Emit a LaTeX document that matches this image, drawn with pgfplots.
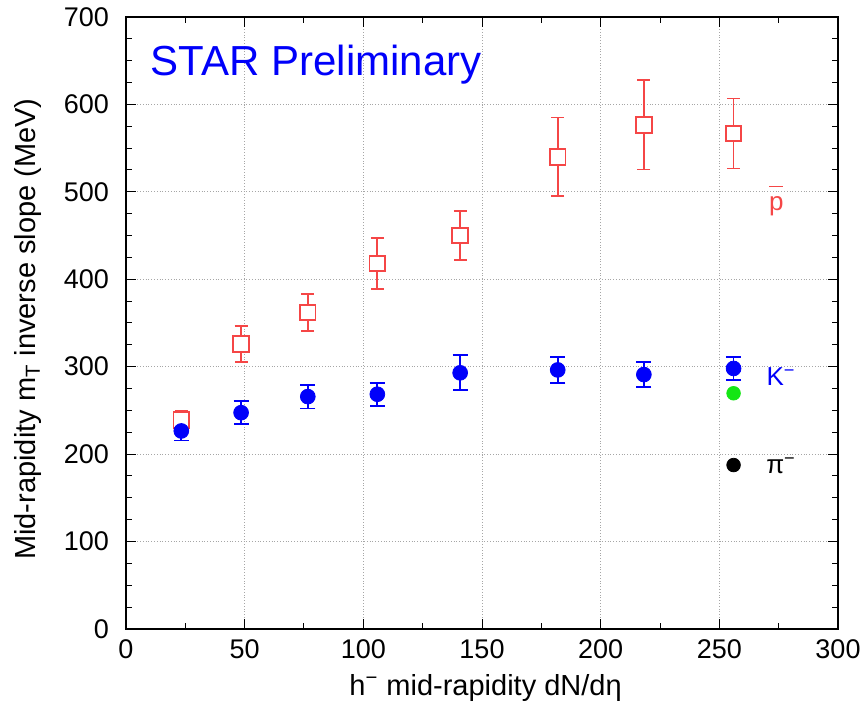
\documentclass[border=0pt]{standalone}
\usepackage{fontspec}
\setmainfont{Liberation Sans}
\usepackage{pgfplots}
\usepackage{pgfplotstable}
\pgfplotsset{compat=1.18}
\definecolor{pbarred}{RGB}{245,70,70}
\definecolor{kblue}{RGB}{0,0,250}
\definecolor{kgreen}{RGB}{20,230,20}

% anti-proton slopes
\pgfplotstableread{
x y e
23.3 239 10
48.5 325.8 20.5
76.6 362 21
105.9 418 29
140.8 450 28
181.9 540 45
218.2 576.6 51
256 566.7 40
}\pbar
% K- slopes
\pgfplotstableread{
x y e
23.3 226.5 11
48.5 247.4 13
76.6 265.8 13.5
105.9 268.5 13
140.8 293 20
181.9 296.3 15
218.2 291 14.5
256 298 13.5
}\kminus

\begin{document}
\begin{tikzpicture}
\begin{axis}[
  width=356pt, height=306pt, scale only axis,
  xmin=0, xmax=300, ymin=0, ymax=700,
  xtick={0,50,...,300}, ytick={0,100,...,700},
  minor x tick num=1, minor y tick num=3,
  tick align=inside, major tick length=5pt, minor tick length=3pt,
  xmajorgrids, ymajorgrids, grid style={gray!70, densely dotted, line width=0.5pt},
  axis line style={line width=1pt},
  every tick/.style={black, line width=0.5pt},
  tick label style={font=\fontsize{13.5}{14}\selectfont},
  yticklabel style={xshift=-5pt},
  xticklabel style={yshift=-2pt},
  /pgf/number format/assume math mode=true,
  label style={font=\fontsize{14.5}{16}\selectfont},
  xlabel={h\textsuperscript{−} mid-rapidity dN/dη},
  ylabel={Mid-rapidity m\textsubscript{T} inverse slope (MeV)},
  xlabel style={at={(axis description cs:0.505,-0.108)}, anchor=base},
  ylabel style={at={(axis description cs:-0.1376,0.49)}, anchor=center},
  clip=false,
]
\addplot[only marks, mark=square, mark size=3.9pt, color=pbarred, mark options={line width=0.9pt},
  error bars/.cd, y dir=both, y explicit, error mark options={rotate=90, mark size=3.2pt, line width=0.9pt},
  error bar style={line width=0.9pt}]
  table[x=x, y=y, y error=e] {\pbar};
\addplot[only marks, mark=square*, mark size=3.9pt, color=pbarred, mark options={line width=0.9pt, fill=white}]
  table[x=x, y=y] {\pbar};
\addplot[only marks, mark=*, mark size=3.7pt, color=kblue,
  error bars/.cd, y dir=both, y explicit, error mark options={rotate=90, mark size=3.8pt, line width=0.9pt},
  error bar style={line width=0.9pt}]
  table[x=x, y=y, y error=e] {\kminus};
\addplot[only marks, mark=*, mark size=3.4pt, color=kgreen] coordinates {(256,269.6)};
\addplot[only marks, mark=*, mark size=3.4pt, color=black] coordinates {(256,187.5)};
\node[anchor=west, text=kblue, font=\fontsize{21}{24}\selectfont] at (axis cs:7.5,646) {STAR Preliminary};
\node[text=pbarred, font=\fontsize{13}{14}\selectfont] at (axis cs:274,490) {\rlap{\raisebox{0.88em}{\rule{0.52em}{0.7pt}}}p};
\node[text=kblue, font=\fontsize{13}{14}\selectfont] at (axis cs:276,289) {K\textsuperscript{−}};
\node[text=black, font=\fontsize{13}{14}\selectfont] at (axis cs:276,187) {π\textsuperscript{−}};
\end{axis}
\pgfresetboundingbox
\path (current axis.south west) ++(-63pt,-39pt) coordinate (bbA);
\path (current axis.north east) ++(12pt,8.5pt) coordinate (bbB);
\path[use as bounding box] (bbA) rectangle (bbB);
\end{tikzpicture}
\end{document}
